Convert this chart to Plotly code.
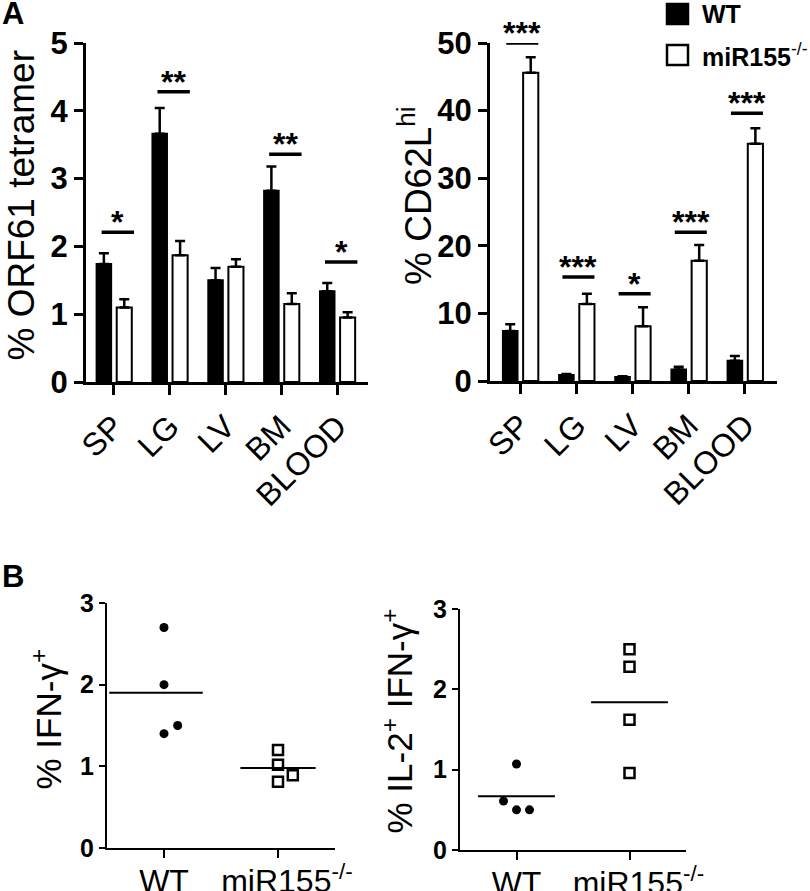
import numpy as np
import plotly.graph_objects as go

W, H = 810, 891
FONT = "Liberation Sans, Arial, Helvetica, sans-serif"

# ---------------- data ----------------
tissues = ["SP", "LG", "LV", "BM", "BLOOD"]

orf61_wt = [1.74, 3.66, 1.50, 2.82, 1.34]
orf61_wt_err = [0.16, 0.38, 0.18, 0.36, 0.12]
orf61_ko = [1.10, 1.87, 1.70, 1.15, 0.95]
orf61_ko_err = [0.12, 0.21, 0.11, 0.16, 0.08]
orf61_sig_level = [2.21, 4.28, None, 3.36, 1.77]
orf61_sig_text = ["*", "**", "", "**", "*"]

cd62l_wt = [7.4, 0.9, 0.6, 1.7, 3.0]
cd62l_wt_err = [1.0, 0.15, 0.1, 0.4, 0.7]
cd62l_ko = [45.6, 11.4, 8.1, 17.8, 35.1]
cd62l_ko_err = [2.3, 1.5, 2.8, 2.3, 2.3]
cd62l_sig_level = [50.0, 15.4, 12.9, 22.0, 39.6]
cd62l_sig_text = ["***", "***", "*", "***", "***"]

groups = ["WT", "\u00a0\u00a0miR155<sup>-/-</sup>"]
ifn_wt = [2.70, 2.00, 1.40, 1.50]
ifn_ko = [1.20, 1.02, 0.81, 0.89]
ifn_sig_level = 3.05
il2_wt = [1.07, 0.61, 0.50, 0.50]
il2_ko = [2.50, 2.28, 1.62, 0.96]
il2_sig_level = 3.20

# jitter of scatter points (horizontal placement only)
ifn_wt_jit = [0, 0, 0, 0.12]
ifn_ko_jit = [0, 0, 0, 0.13]
il2_wt_jit = [0, -0.115, 0, 0.115]
il2_ko_jit = [0, 0, 0, 0]

# ---------------- helpers ----------------
def px_x(p):
    return p / W

def px_y(p):
    return 1 - p / H

fig = go.Figure()

def bar_panel(xa, ya, wt, wte, ko, koe):
    xs = list(range(len(tissues)))
    fig.add_trace(go.Bar(
        x=xs, y=wt, xaxis=xa, yaxis=ya, offset=-0.31, width=0.26,
        marker=dict(color="black", line=dict(color="black", width=2)),
        error_y=dict(type="data", array=wte, arrayminus=[0] * len(wte),
                     symmetric=False, color="black", thickness=2.5, width=5),
        showlegend=False))
    fig.add_trace(go.Bar(
        x=xs, y=ko, xaxis=xa, yaxis=ya, offset=0.05, width=0.27,
        marker=dict(color="white", line=dict(color="black", width=2)),
        error_y=dict(type="data", array=koe, arrayminus=[0] * len(koe),
                     symmetric=False, color="black", thickness=2.5, width=5),
        showlegend=False))

def sig(xa, ya, x0, x1, level, text, lw, size=32):
    fig.add_trace(go.Scatter(
        x=[x0, x1], y=[level, level], xaxis=xa, yaxis=ya, mode="lines",
        line=dict(color="black", width=lw), cliponaxis=False,
        showlegend=False, hoverinfo="skip"))
    fig.add_annotation(
        x=(x0 + x1) / 2, y=level, xref=xa, yref=ya, text="<b>%s</b>" % text,
        showarrow=False, yanchor="bottom", xanchor="center", yshift=-10,
        font=dict(family=FONT, size=size, color="black"))

bar_panel("x", "y", orf61_wt, orf61_wt_err, orf61_ko, orf61_ko_err)
bar_panel("x2", "y2", cd62l_wt, cd62l_wt_err, cd62l_ko, cd62l_ko_err)

for i, (lvl, t) in enumerate(zip(orf61_sig_level, orf61_sig_text)):
    if lvl is not None and t:
        sig("x", "y", i - 0.22, i + 0.36, lvl, t, 3.5)
for i, (lvl, t) in enumerate(zip(cd62l_sig_level, cd62l_sig_text)):
    sig("x2", "y2", i - 0.25, i + 0.32, lvl, t, 3.5)

def dot_panel(xa, ya, wt, wt_j, ko, ko_j, wt_span, ko_span, sig_lvl, sig_span):
    fig.add_trace(go.Scatter(
        x=[0 + j for j in wt_j], y=wt, xaxis=xa, yaxis=ya, mode="markers",
        marker=dict(symbol="circle", size=9, color="black"),
        cliponaxis=False, showlegend=False))
    fig.add_trace(go.Scatter(
        x=[1 + j for j in ko_j], y=ko, xaxis=xa, yaxis=ya, mode="markers",
        marker=dict(symbol="square-open", size=10, color="black",
                    line=dict(width=2.5, color="black")),
        cliponaxis=False, showlegend=False))
    for c, vals, span in [(0, wt, wt_span), (1, ko, ko_span)]:
        m = float(np.mean(vals))
        fig.add_trace(go.Scatter(
            x=[c + span[0], c + span[1]], y=[m, m], xaxis=xa, yaxis=ya,
            mode="lines", line=dict(color="black", width=2),
            cliponaxis=False, showlegend=False, hoverinfo="skip"))
    sig(xa, ya, sig_span[0], sig_span[1], sig_lvl, "*", 4, size=34)

dot_panel("x3", "y3", ifn_wt, ifn_wt_jit, ifn_ko, ifn_ko_jit,
          (-0.48, 0.34), (-0.33, 0.33), ifn_sig_level, (0.42, 0.75))
dot_panel("x4", "y4", il2_wt, il2_wt_jit, il2_ko, il2_ko_jit,
          (-0.34, 0.34), (-0.34, 0.34), il2_sig_level, (0.27, 0.61))

# ---------------- axes ----------------
def xaxis(dom, rng, tv, tt, anchor, angle, ticklen, lw, size, standoff=0):
    return dict(domain=[px_x(dom[0]), px_x(dom[1])], range=rng, anchor=anchor,
                tickmode="array", tickvals=tv, ticktext=tt, tickangle=angle,
                ticks="outside", ticklen=ticklen, tickwidth=lw, tickcolor="black",
                ticklabelstandoff=standoff,
                showline=True, linecolor="black", linewidth=lw,
                showgrid=False, zeroline=False, fixedrange=True, automargin=False,
                tickfont=dict(family=FONT, size=size, color="black"))

def yaxis(dom, rng, dtick, anchor, ticklen, lw, size):
    return dict(domain=[px_y(dom[1]), px_y(dom[0])], range=rng, anchor=anchor,
                dtick=dtick, tick0=0, ticks="outside", ticklen=ticklen,
                tickwidth=lw, tickcolor="black",
                showline=True, linecolor="black", linewidth=lw,
                showgrid=False, zeroline=False, fixedrange=True, automargin=False,
                tickfont=dict(family=FONT, size=size, color="black", weight="bold"))

tv5 = list(range(len(tissues)))
fig.update_layout(
    template="none",
    width=W, height=H, margin=dict(l=0, r=0, t=0, b=0, pad=0, autoexpand=False),
    paper_bgcolor="white", plot_bgcolor="white", showlegend=False,
    barmode="overlay",
    font=dict(family=FONT, color="black"),
    xaxis=xaxis((86, 368), [-0.5, 4.55], tv5, tissues, "y", -45, 10, 3, 32),
    yaxis=yaxis((43, 382), [0, 5], 1, "x", 9, 3, 31),
    xaxis2=xaxis((490, 777), [-0.54, 4.57], tv5, tissues, "y2", -45, 10, 3, 32),
    yaxis2=yaxis((43, 381), [0, 50], 10, "x2", 9, 3, 31),
    xaxis3=xaxis((107, 335), [-0.5, 1.5], [0, 1], groups, "y3", 0, 8, 2, 32, -4),
    yaxis3=yaxis((603, 848), [0, 3], 1, "x3", 6, 2, 25),
    xaxis4=xaxis((460, 686), [-0.5, 1.5], [0, 1], groups, "y4", 0, 8, 2, 32, -4),
    yaxis4=yaxis((609, 850), [0, 3], 1, "x4", 6, 2, 25),
)

# ---------------- axis titles ----------------
def ytitle(text, base_x, start_y, size):
    fig.add_annotation(
        x=px_x(base_x), y=px_y(start_y), xref="paper", yref="paper",
        text=text, textangle=-90, showarrow=False,
        xanchor="right", yanchor="bottom",
        font=dict(family=FONT, size=size, color="black"))

ytitle("% ORF61 tetramer", 43, 363, 37)
ytitle("% CD62L<sup>hi</sup>", 441, 287, 37)
ytitle("% IFN-γ<sup>+</sup>", 70, 792, 35)
ytitle("% IL-2<sup>+</sup> IFN-γ<sup>+</sup>", 421, 835, 35)

# panel letters
for letter, ypx in [("A", 13), ("B", 576)]:
    fig.add_annotation(x=0, y=px_y(ypx), xref="paper", yref="paper",
                       text="<b>%s</b>" % letter, showarrow=False,
                       xanchor="left", yanchor="middle",
                       font=dict(family=FONT, size=31, color="black"))

# legend
legend_items = [("<b>WT</b>", "black", 14), ("<b>miR155</b><sup>-/-</sup>", "white", 55)]
for label, fill, yc in legend_items:
    fig.add_shape(type="rect", xref="paper", yref="paper",
                  x0=px_x(667), x1=px_x(688), y0=px_y(yc + 10), y1=px_y(yc - 10),
                  fillcolor=fill, line=dict(color="black", width=2.5))
    fig.add_annotation(x=px_x(700), y=px_y(yc), xref="paper", yref="paper",
                       text=label, showarrow=False, xanchor="left", yanchor="middle",
                       font=dict(family=FONT, size=25, color="black"))

fig.write_html(
    "out.html",
    config={"displayModeBar": False, "staticPlot": True},
    post_script="document.body.style.margin='0';document.body.style.overflow='hidden';",
)
